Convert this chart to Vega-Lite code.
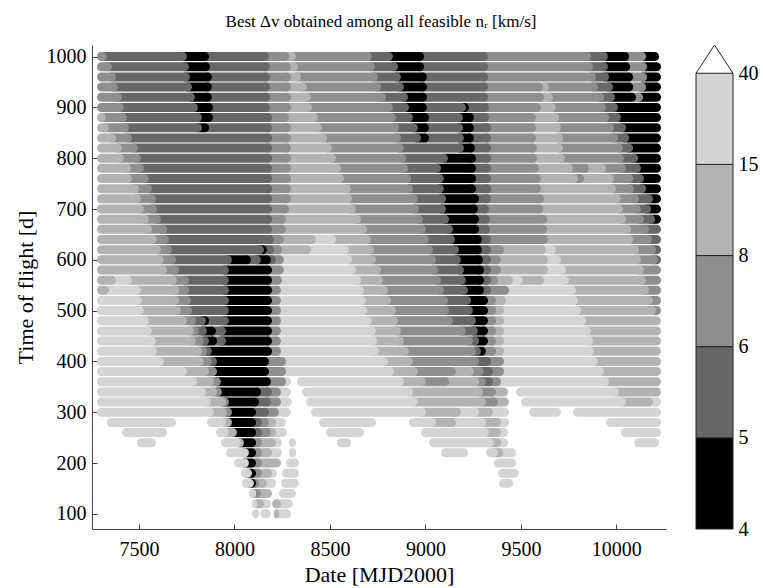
{
"$schema": "https://vega.github.io/schema/vega-lite/v6.json",
"background": "white",
"padding": {"left": 14, "top": 13, "right": 2, "bottom": 2},
"title": {"text": "Best Δv obtained among all feasible nᵣ [km/s]", "font": "Liberation Serif", "fontSize": 17, "fontWeight": "normal", "color": "black", "anchor": "middle", "offset": 12, "dx": -5},
"bounds": "flush",
"spacing": 30,
"resolve": {"scale": {"x": "independent", "y": "independent"}},
"hconcat": [
{
"width": 574, "height": 484,
"data": {"values": [
{"tof":1000,"d0":7280,"d1":7332,"c":2},{"tof":1000,"d0":7287,"d1":7751,"c":1},{"tof":1000,"d0":7706,"d1":7867,"c":0},{"tof":1000,"d0":7822,"d1":8181,"c":1},{"tof":1000,"d0":8136,"d1":8286,"c":2},{"tof":1000,"d0":8241,"d1":8322,"c":3},{"tof":1000,"d0":8277,"d1":8720,"c":2},{"tof":1000,"d0":8675,"d1":8830,"c":1},{"tof":1000,"d0":8785,"d1":8993,"c":0},{"tof":1000,"d0":8948,"d1":9328,"c":1},{"tof":1000,"d0":9283,"d1":9867,"c":2},{"tof":1000,"d0":9822,"d1":9956,"c":1},{"tof":1000,"d0":9911,"d1":10067,"c":0},{"tof":1000,"d0":10022,"d1":10156,"c":2},{"tof":1000,"d0":10111,"d1":10224,"c":0},
{"tof":980,"d0":7280,"d1":7359,"c":2},{"tof":980,"d0":7314,"d1":7762,"c":1},{"tof":980,"d0":7717,"d1":7872,"c":0},{"tof":980,"d0":7827,"d1":8186,"c":1},{"tof":980,"d0":8141,"d1":8296,"c":2},{"tof":980,"d0":8251,"d1":8333,"c":3},{"tof":980,"d0":8288,"d1":8736,"c":2},{"tof":980,"d0":8691,"d1":8857,"c":1},{"tof":980,"d0":8812,"d1":8993,"c":0},{"tof":980,"d0":8948,"d1":9328,"c":1},{"tof":980,"d0":9283,"d1":9878,"c":2},{"tof":980,"d0":9833,"d1":9956,"c":1},{"tof":980,"d0":9911,"d1":10072,"c":0},{"tof":980,"d0":10027,"d1":10161,"c":2},{"tof":980,"d0":10116,"d1":10234,"c":0},
{"tof":960,"d0":7280,"d1":7380,"c":2},{"tof":960,"d0":7335,"d1":7767,"c":1},{"tof":960,"d0":7722,"d1":7882,"c":0},{"tof":960,"d0":7837,"d1":8186,"c":1},{"tof":960,"d0":8141,"d1":8296,"c":2},{"tof":960,"d0":8251,"d1":8349,"c":3},{"tof":960,"d0":8304,"d1":8752,"c":2},{"tof":960,"d0":8707,"d1":8872,"c":1},{"tof":960,"d0":8827,"d1":9008,"c":0},{"tof":960,"d0":8963,"d1":9328,"c":1},{"tof":960,"d0":9283,"d1":9894,"c":2},{"tof":960,"d0":9849,"d1":9962,"c":1},{"tof":960,"d0":9917,"d1":10088,"c":0},{"tof":960,"d0":10043,"d1":10161,"c":2},{"tof":960,"d0":10116,"d1":10234,"c":0},
{"tof":940,"d0":7280,"d1":7390,"c":2},{"tof":940,"d0":7345,"d1":7778,"c":1},{"tof":940,"d0":7733,"d1":7882,"c":0},{"tof":940,"d0":7837,"d1":8186,"c":1},{"tof":940,"d0":8141,"d1":8296,"c":2},{"tof":940,"d0":8251,"d1":8380,"c":3},{"tof":940,"d0":8335,"d1":8768,"c":2},{"tof":940,"d0":8723,"d1":8888,"c":1},{"tof":940,"d0":8843,"d1":9008,"c":0},{"tof":940,"d0":8963,"d1":9328,"c":1},{"tof":940,"d0":9283,"d1":9616,"c":2},{"tof":940,"d0":9571,"d1":9647,"c":3},{"tof":940,"d0":9602,"d1":9904,"c":2},{"tof":940,"d0":9859,"d1":9983,"c":1},{"tof":940,"d0":9938,"d1":10088,"c":0},{"tof":940,"d0":10043,"d1":10156,"c":2},{"tof":940,"d0":10111,"d1":10234,"c":0},
{"tof":920,"d0":7280,"d1":7411,"c":2},{"tof":920,"d0":7366,"d1":7793,"c":1},{"tof":920,"d0":7748,"d1":7882,"c":0},{"tof":920,"d0":7837,"d1":8186,"c":1},{"tof":920,"d0":8141,"d1":8296,"c":2},{"tof":920,"d0":8251,"d1":8401,"c":3},{"tof":920,"d0":8356,"d1":8794,"c":2},{"tof":920,"d0":8749,"d1":8909,"c":1},{"tof":920,"d0":8864,"d1":9008,"c":0},{"tof":920,"d0":8963,"d1":9328,"c":1},{"tof":920,"d0":9283,"d1":9621,"c":2},{"tof":920,"d0":9576,"d1":9668,"c":3},{"tof":920,"d0":9623,"d1":9936,"c":2},{"tof":920,"d0":9891,"d1":9993,"c":1},{"tof":920,"d0":9948,"d1":10103,"c":0},{"tof":920,"d0":10058,"d1":10140,"c":2},{"tof":920,"d0":10095,"d1":10234,"c":0},
{"tof":900,"d0":7280,"d1":7421,"c":2},{"tof":900,"d0":7376,"d1":7809,"c":1},{"tof":900,"d0":7764,"d1":7888,"c":0},{"tof":900,"d0":7843,"d1":8186,"c":1},{"tof":900,"d0":8141,"d1":8296,"c":2},{"tof":900,"d0":8251,"d1":8406,"c":3},{"tof":900,"d0":8361,"d1":8830,"c":2},{"tof":900,"d0":8785,"d1":8914,"c":1},{"tof":900,"d0":8869,"d1":9008,"c":0},{"tof":900,"d0":8963,"d1":9212,"c":1},{"tof":900,"d0":9167,"d1":9228,"c":0},{"tof":900,"d0":9183,"d1":9333,"c":1},{"tof":900,"d0":9288,"d1":9605,"c":2},{"tof":900,"d0":9560,"d1":9684,"c":3},{"tof":900,"d0":9639,"d1":9946,"c":2},{"tof":900,"d0":9901,"d1":10009,"c":1},{"tof":900,"d0":9964,"d1":10234,"c":0},
{"tof":880,"d0":7280,"d1":7327,"c":3},{"tof":880,"d0":7282,"d1":7437,"c":2},{"tof":880,"d0":7392,"d1":7830,"c":1},{"tof":880,"d0":7785,"d1":7888,"c":0},{"tof":880,"d0":7843,"d1":8197,"c":1},{"tof":880,"d0":8152,"d1":8286,"c":2},{"tof":880,"d0":8241,"d1":8438,"c":3},{"tof":880,"d0":8393,"d1":8846,"c":2},{"tof":880,"d0":8801,"d1":8935,"c":1},{"tof":880,"d0":8890,"d1":9019,"c":0},{"tof":880,"d0":8974,"d1":9197,"c":1},{"tof":880,"d0":9152,"d1":9254,"c":0},{"tof":880,"d0":9209,"d1":9333,"c":1},{"tof":880,"d0":9288,"d1":9579,"c":2},{"tof":880,"d0":9534,"d1":9700,"c":3},{"tof":880,"d0":9655,"d1":9962,"c":2},{"tof":880,"d0":9917,"d1":10024,"c":1},{"tof":880,"d0":9979,"d1":10234,"c":0},
{"tof":860,"d0":7280,"d1":7343,"c":3},{"tof":860,"d0":7298,"d1":7448,"c":2},{"tof":860,"d0":7403,"d1":7830,"c":1},{"tof":860,"d0":7785,"d1":7867,"c":0},{"tof":860,"d0":7822,"d1":8197,"c":1},{"tof":860,"d0":8152,"d1":8296,"c":2},{"tof":860,"d0":8251,"d1":8458,"c":3},{"tof":860,"d0":8413,"d1":8862,"c":2},{"tof":860,"d0":8817,"d1":8961,"c":1},{"tof":860,"d0":8916,"d1":9019,"c":0},{"tof":860,"d0":8974,"d1":9197,"c":1},{"tof":860,"d0":9152,"d1":9254,"c":0},{"tof":860,"d0":9209,"d1":9344,"c":1},{"tof":860,"d0":9299,"d1":9579,"c":2},{"tof":860,"d0":9534,"d1":9710,"c":3},{"tof":860,"d0":9665,"d1":9988,"c":2},{"tof":860,"d0":9943,"d1":10051,"c":1},{"tof":860,"d0":10006,"d1":10234,"c":0},
{"tof":840,"d0":7280,"d1":7380,"c":3},{"tof":840,"d0":7335,"d1":7463,"c":2},{"tof":840,"d0":7418,"d1":8197,"c":1},{"tof":840,"d0":8152,"d1":8296,"c":2},{"tof":840,"d0":8251,"d1":8485,"c":3},{"tof":840,"d0":8440,"d1":8872,"c":2},{"tof":840,"d0":8827,"d1":8977,"c":1},{"tof":840,"d0":8932,"d1":9019,"c":0},{"tof":840,"d0":8974,"d1":9202,"c":1},{"tof":840,"d0":9157,"d1":9254,"c":0},{"tof":840,"d0":9209,"d1":9344,"c":1},{"tof":840,"d0":9299,"d1":9579,"c":2},{"tof":840,"d0":9534,"d1":9721,"c":3},{"tof":840,"d0":9676,"d1":10009,"c":2},{"tof":840,"d0":9964,"d1":10067,"c":1},{"tof":840,"d0":10022,"d1":10234,"c":0},
{"tof":820,"d0":7280,"d1":7411,"c":3},{"tof":820,"d0":7366,"d1":7495,"c":2},{"tof":820,"d0":7450,"d1":8197,"c":1},{"tof":820,"d0":8152,"d1":8296,"c":2},{"tof":820,"d0":8251,"d1":8511,"c":3},{"tof":820,"d0":8466,"d1":8888,"c":2},{"tof":820,"d0":8843,"d1":9202,"c":1},{"tof":820,"d0":9157,"d1":9260,"c":0},{"tof":820,"d0":9215,"d1":9344,"c":1},{"tof":820,"d0":9299,"d1":9584,"c":2},{"tof":820,"d0":9539,"d1":9721,"c":3},{"tof":820,"d0":9676,"d1":10035,"c":2},{"tof":820,"d0":9990,"d1":10088,"c":1},{"tof":820,"d0":10043,"d1":10234,"c":0},
{"tof":800,"d0":7280,"d1":7421,"c":3},{"tof":800,"d0":7376,"d1":7510,"c":2},{"tof":800,"d0":7465,"d1":8197,"c":1},{"tof":800,"d0":8152,"d1":8296,"c":2},{"tof":800,"d0":8251,"d1":8532,"c":3},{"tof":800,"d0":8487,"d1":8899,"c":2},{"tof":800,"d0":8854,"d1":9118,"c":1},{"tof":800,"d0":9073,"d1":9265,"c":0},{"tof":800,"d0":9220,"d1":9344,"c":1},{"tof":800,"d0":9299,"d1":9584,"c":2},{"tof":800,"d0":9539,"d1":9731,"c":3},{"tof":800,"d0":9686,"d1":10040,"c":2},{"tof":800,"d0":9995,"d1":10114,"c":1},{"tof":800,"d0":10069,"d1":10234,"c":0},
{"tof":780,"d0":7280,"d1":7458,"c":3},{"tof":780,"d0":7413,"d1":7526,"c":2},{"tof":780,"d0":7481,"d1":8197,"c":1},{"tof":780,"d0":8152,"d1":8296,"c":2},{"tof":780,"d0":8251,"d1":8558,"c":3},{"tof":780,"d0":8513,"d1":8909,"c":2},{"tof":780,"d0":8864,"d1":9082,"c":1},{"tof":780,"d0":9037,"d1":9265,"c":0},{"tof":780,"d0":9220,"d1":9344,"c":1},{"tof":780,"d0":9299,"d1":9595,"c":2},{"tof":780,"d0":9550,"d1":9773,"c":3},{"tof":780,"d0":9728,"d1":9857,"c":2},{"tof":780,"d0":9812,"d1":9946,"c":3},{"tof":780,"d0":9901,"d1":10051,"c":2},{"tof":780,"d0":10006,"d1":10129,"c":1},{"tof":780,"d0":10084,"d1":10234,"c":0},
{"tof":760,"d0":7280,"d1":7463,"c":3},{"tof":760,"d0":7418,"d1":7552,"c":2},{"tof":760,"d0":7507,"d1":8197,"c":1},{"tof":760,"d0":8152,"d1":8296,"c":2},{"tof":760,"d0":8251,"d1":8574,"c":3},{"tof":760,"d0":8529,"d1":8925,"c":2},{"tof":760,"d0":8880,"d1":9097,"c":1},{"tof":760,"d0":9052,"d1":9265,"c":0},{"tof":760,"d0":9220,"d1":9344,"c":1},{"tof":760,"d0":9299,"d1":9605,"c":2},{"tof":760,"d0":9560,"d1":9799,"c":3},{"tof":760,"d0":9754,"d1":9831,"c":2},{"tof":760,"d0":9786,"d1":9988,"c":3},{"tof":760,"d0":9943,"d1":10088,"c":2},{"tof":760,"d0":10043,"d1":10145,"c":1},{"tof":760,"d0":10100,"d1":10234,"c":0},
{"tof":740,"d0":7280,"d1":7500,"c":3},{"tof":740,"d0":7455,"d1":7568,"c":2},{"tof":740,"d0":7523,"d1":8197,"c":1},{"tof":740,"d0":8152,"d1":8296,"c":2},{"tof":740,"d0":8251,"d1":8610,"c":3},{"tof":740,"d0":8565,"d1":8935,"c":2},{"tof":740,"d0":8890,"d1":9097,"c":1},{"tof":740,"d0":9052,"d1":9265,"c":0},{"tof":740,"d0":9220,"d1":9344,"c":1},{"tof":740,"d0":9299,"d1":9605,"c":2},{"tof":740,"d0":9560,"d1":9998,"c":3},{"tof":740,"d0":9953,"d1":10093,"c":2},{"tof":740,"d0":10048,"d1":10156,"c":1},{"tof":740,"d0":10111,"d1":10234,"c":0},
{"tof":720,"d0":7280,"d1":7510,"c":3},{"tof":720,"d0":7465,"d1":7589,"c":2},{"tof":720,"d0":7544,"d1":8197,"c":1},{"tof":720,"d0":8152,"d1":8296,"c":2},{"tof":720,"d0":8251,"d1":8616,"c":3},{"tof":720,"d0":8571,"d1":8961,"c":2},{"tof":720,"d0":8916,"d1":9108,"c":1},{"tof":720,"d0":9063,"d1":9281,"c":0},{"tof":720,"d0":9236,"d1":9344,"c":1},{"tof":720,"d0":9299,"d1":9621,"c":2},{"tof":720,"d0":9576,"d1":10024,"c":3},{"tof":720,"d0":9979,"d1":10119,"c":2},{"tof":720,"d0":10074,"d1":10192,"c":1},{"tof":720,"d0":10147,"d1":10234,"c":0},
{"tof":700,"d0":7280,"d1":7526,"c":3},{"tof":700,"d0":7481,"d1":7594,"c":2},{"tof":700,"d0":7549,"d1":8197,"c":1},{"tof":700,"d0":8152,"d1":8286,"c":2},{"tof":700,"d0":8241,"d1":8637,"c":3},{"tof":700,"d0":8592,"d1":8967,"c":2},{"tof":700,"d0":8922,"d1":9108,"c":1},{"tof":700,"d0":9063,"d1":9275,"c":0},{"tof":700,"d0":9230,"d1":9333,"c":1},{"tof":700,"d0":9288,"d1":9616,"c":2},{"tof":700,"d0":9571,"d1":10035,"c":3},{"tof":700,"d0":9990,"d1":10129,"c":2},{"tof":700,"d0":10084,"d1":10182,"c":1},{"tof":700,"d0":10137,"d1":10234,"c":0},
{"tof":680,"d0":7280,"d1":7552,"c":3},{"tof":680,"d0":7507,"d1":7615,"c":2},{"tof":680,"d0":7570,"d1":8197,"c":1},{"tof":680,"d0":8152,"d1":8270,"c":2},{"tof":680,"d0":8225,"d1":8663,"c":3},{"tof":680,"d0":8618,"d1":8988,"c":2},{"tof":680,"d0":8943,"d1":9124,"c":1},{"tof":680,"d0":9079,"d1":9281,"c":0},{"tof":680,"d0":9236,"d1":9338,"c":1},{"tof":680,"d0":9293,"d1":9637,"c":2},{"tof":680,"d0":9592,"d1":10051,"c":3},{"tof":680,"d0":10006,"d1":10145,"c":2},{"tof":680,"d0":10100,"d1":10203,"c":1},{"tof":680,"d0":10158,"d1":10234,"c":0},
{"tof":660,"d0":7280,"d1":7568,"c":3},{"tof":660,"d0":7523,"d1":7647,"c":2},{"tof":660,"d0":7602,"d1":8197,"c":1},{"tof":660,"d0":8152,"d1":8270,"c":2},{"tof":660,"d0":8225,"d1":8694,"c":3},{"tof":660,"d0":8649,"d1":9003,"c":2},{"tof":660,"d0":8958,"d1":9145,"c":1},{"tof":660,"d0":9100,"d1":9281,"c":0},{"tof":660,"d0":9236,"d1":9338,"c":1},{"tof":660,"d0":9293,"d1":9637,"c":2},{"tof":660,"d0":9592,"d1":10077,"c":3},{"tof":660,"d0":10032,"d1":10171,"c":2},{"tof":660,"d0":10126,"d1":10234,"c":1},
{"tof":640,"d0":7280,"d1":7594,"c":3},{"tof":640,"d0":7549,"d1":7657,"c":2},{"tof":640,"d0":7612,"d1":8207,"c":1},{"tof":640,"d0":8162,"d1":8259,"c":2},{"tof":640,"d0":8214,"d1":8427,"c":3},{"tof":640,"d0":8382,"d1":8532,"c":4},{"tof":640,"d0":8487,"d1":8715,"c":3},{"tof":640,"d0":8670,"d1":9019,"c":2},{"tof":640,"d0":8974,"d1":9155,"c":1},{"tof":640,"d0":9110,"d1":9296,"c":0},{"tof":640,"d0":9251,"d1":9344,"c":1},{"tof":640,"d0":9299,"d1":9642,"c":2},{"tof":640,"d0":9597,"d1":10088,"c":3},{"tof":640,"d0":10043,"d1":10187,"c":2},{"tof":640,"d0":10142,"d1":10234,"c":1},
{"tof":620,"d0":7280,"d1":7615,"c":3},{"tof":620,"d0":7570,"d1":7673,"c":2},{"tof":620,"d0":7628,"d1":8155,"c":1},{"tof":620,"d0":8110,"d1":8170,"c":0},{"tof":620,"d0":8125,"d1":8207,"c":1},{"tof":620,"d0":8162,"d1":8249,"c":2},{"tof":620,"d0":8204,"d1":8401,"c":3},{"tof":620,"d0":8356,"d1":8600,"c":4},{"tof":620,"d0":8555,"d1":8731,"c":3},{"tof":620,"d0":8686,"d1":9040,"c":2},{"tof":620,"d0":8995,"d1":9176,"c":1},{"tof":620,"d0":9131,"d1":9296,"c":0},{"tof":620,"d0":9251,"d1":9344,"c":1},{"tof":620,"d0":9299,"d1":9412,"c":2},{"tof":620,"d0":9367,"d1":9631,"c":3},{"tof":620,"d0":9586,"d1":9684,"c":4},{"tof":620,"d0":9639,"d1":10119,"c":3},{"tof":620,"d0":10074,"d1":10208,"c":2},{"tof":620,"d0":10163,"d1":10234,"c":1},
{"tof":600,"d0":7280,"d1":7631,"c":3},{"tof":600,"d0":7586,"d1":7694,"c":2},{"tof":600,"d0":7649,"d1":7987,"c":1},{"tof":600,"d0":7942,"d1":8087,"c":0},{"tof":600,"d0":8042,"d1":8139,"c":1},{"tof":600,"d0":8094,"d1":8191,"c":0},{"tof":600,"d0":8146,"d1":8218,"c":1},{"tof":600,"d0":8173,"d1":8259,"c":2},{"tof":600,"d0":8214,"d1":8616,"c":4},{"tof":600,"d0":8571,"d1":8741,"c":3},{"tof":600,"d0":8696,"d1":9056,"c":2},{"tof":600,"d0":9011,"d1":9186,"c":1},{"tof":600,"d0":9141,"d1":9302,"c":0},{"tof":600,"d0":9257,"d1":9344,"c":1},{"tof":600,"d0":9299,"d1":9396,"c":2},{"tof":600,"d0":9351,"d1":9642,"c":3},{"tof":600,"d0":9597,"d1":9710,"c":4},{"tof":600,"d0":9665,"d1":10129,"c":3},{"tof":600,"d0":10084,"d1":10218,"c":2},{"tof":600,"d0":10173,"d1":10234,"c":1},
{"tof":580,"d0":7280,"d1":7647,"c":3},{"tof":580,"d0":7602,"d1":7710,"c":2},{"tof":580,"d0":7665,"d1":7971,"c":1},{"tof":580,"d0":7926,"d1":8197,"c":0},{"tof":580,"d0":8152,"d1":8259,"c":2},{"tof":580,"d0":8214,"d1":8637,"c":4},{"tof":580,"d0":8592,"d1":8768,"c":3},{"tof":580,"d0":8723,"d1":9066,"c":2},{"tof":580,"d0":9021,"d1":9202,"c":1},{"tof":580,"d0":9157,"d1":9307,"c":0},{"tof":580,"d0":9262,"d1":9344,"c":1},{"tof":580,"d0":9299,"d1":9396,"c":2},{"tof":580,"d0":9351,"d1":9642,"c":3},{"tof":580,"d0":9597,"d1":9736,"c":4},{"tof":580,"d0":9691,"d1":10145,"c":3},{"tof":580,"d0":10100,"d1":10234,"c":2},
{"tof":560,"d0":7280,"d1":7380,"c":3},{"tof":560,"d0":7335,"d1":7463,"c":4},{"tof":560,"d0":7418,"d1":7699,"c":3},{"tof":560,"d0":7654,"d1":7762,"c":2},{"tof":560,"d0":7717,"d1":7971,"c":1},{"tof":560,"d0":7926,"d1":8197,"c":0},{"tof":560,"d0":8152,"d1":8249,"c":2},{"tof":560,"d0":8204,"d1":8663,"c":4},{"tof":560,"d0":8618,"d1":8778,"c":3},{"tof":560,"d0":8733,"d1":9082,"c":2},{"tof":560,"d0":9037,"d1":9212,"c":1},{"tof":560,"d0":9167,"d1":9307,"c":0},{"tof":560,"d0":9262,"d1":9344,"c":1},{"tof":560,"d0":9299,"d1":9380,"c":2},{"tof":560,"d0":9335,"d1":9459,"c":3},{"tof":560,"d0":9414,"d1":9511,"c":4},{"tof":560,"d0":9466,"d1":9621,"c":3},{"tof":560,"d0":9576,"d1":9752,"c":4},{"tof":560,"d0":9707,"d1":10156,"c":3},{"tof":560,"d0":10111,"d1":10234,"c":2},
{"tof":540,"d0":7280,"d1":7343,"c":3},{"tof":540,"d0":7298,"d1":7510,"c":4},{"tof":540,"d0":7465,"d1":7710,"c":3},{"tof":540,"d0":7665,"d1":7762,"c":2},{"tof":540,"d0":7717,"d1":7971,"c":1},{"tof":540,"d0":7926,"d1":8197,"c":0},{"tof":540,"d0":8152,"d1":8244,"c":2},{"tof":540,"d0":8199,"d1":8678,"c":4},{"tof":540,"d0":8633,"d1":8804,"c":3},{"tof":540,"d0":8759,"d1":9097,"c":2},{"tof":540,"d0":9052,"d1":9223,"c":1},{"tof":540,"d0":9178,"d1":9307,"c":0},{"tof":540,"d0":9262,"d1":9344,"c":1},{"tof":540,"d0":9299,"d1":9438,"c":2},{"tof":540,"d0":9393,"d1":9789,"c":4},{"tof":540,"d0":9744,"d1":10171,"c":3},{"tof":540,"d0":10126,"d1":10234,"c":2},
{"tof":520,"d0":7280,"d1":7516,"c":4},{"tof":520,"d0":7471,"d1":7710,"c":3},{"tof":520,"d0":7665,"d1":7772,"c":2},{"tof":520,"d0":7727,"d1":7971,"c":1},{"tof":520,"d0":7926,"d1":8197,"c":0},{"tof":520,"d0":8152,"d1":8244,"c":2},{"tof":520,"d0":8199,"d1":8689,"c":4},{"tof":520,"d0":8644,"d1":8820,"c":3},{"tof":520,"d0":8775,"d1":9118,"c":2},{"tof":520,"d0":9073,"d1":9239,"c":1},{"tof":520,"d0":9194,"d1":9328,"c":0},{"tof":520,"d0":9283,"d1":9370,"c":2},{"tof":520,"d0":9325,"d1":9422,"c":3},{"tof":520,"d0":9377,"d1":9799,"c":4},{"tof":520,"d0":9754,"d1":10192,"c":3},{"tof":520,"d0":10147,"d1":10234,"c":2},
{"tof":500,"d0":7280,"d1":7526,"c":4},{"tof":500,"d0":7481,"d1":7720,"c":3},{"tof":500,"d0":7675,"d1":7778,"c":2},{"tof":500,"d0":7733,"d1":7971,"c":1},{"tof":500,"d0":7926,"d1":8197,"c":0},{"tof":500,"d0":8152,"d1":8244,"c":2},{"tof":500,"d0":8199,"d1":8694,"c":4},{"tof":500,"d0":8649,"d1":8846,"c":3},{"tof":500,"d0":8801,"d1":9124,"c":2},{"tof":500,"d0":9079,"d1":9249,"c":1},{"tof":500,"d0":9204,"d1":9328,"c":0},{"tof":500,"d0":9283,"d1":9370,"c":2},{"tof":500,"d0":9325,"d1":9412,"c":3},{"tof":500,"d0":9367,"d1":9815,"c":4},{"tof":500,"d0":9770,"d1":10208,"c":3},{"tof":500,"d0":10163,"d1":10234,"c":2},
{"tof":480,"d0":7280,"d1":7552,"c":4},{"tof":480,"d0":7507,"d1":7751,"c":3},{"tof":480,"d0":7706,"d1":7799,"c":2},{"tof":480,"d0":7754,"d1":7851,"c":1},{"tof":480,"d0":7806,"d1":7867,"c":0},{"tof":480,"d0":7822,"d1":7971,"c":1},{"tof":480,"d0":7926,"d1":8197,"c":0},{"tof":480,"d0":8152,"d1":8244,"c":2},{"tof":480,"d0":8199,"d1":8720,"c":4},{"tof":480,"d0":8675,"d1":8857,"c":3},{"tof":480,"d0":8812,"d1":9145,"c":2},{"tof":480,"d0":9100,"d1":9265,"c":1},{"tof":480,"d0":9220,"d1":9328,"c":0},{"tof":480,"d0":9283,"d1":9370,"c":2},{"tof":480,"d0":9325,"d1":9412,"c":3},{"tof":480,"d0":9367,"d1":9841,"c":4},{"tof":480,"d0":9796,"d1":10234,"c":3},
{"tof":460,"d0":7280,"d1":7568,"c":4},{"tof":460,"d0":7523,"d1":7788,"c":3},{"tof":460,"d0":7743,"d1":7814,"c":2},{"tof":460,"d0":7769,"d1":7856,"c":1},{"tof":460,"d0":7811,"d1":7903,"c":0},{"tof":460,"d0":7858,"d1":7956,"c":1},{"tof":460,"d0":7911,"d1":8197,"c":0},{"tof":460,"d0":8152,"d1":8244,"c":2},{"tof":460,"d0":8199,"d1":8741,"c":4},{"tof":460,"d0":8696,"d1":8872,"c":3},{"tof":460,"d0":8827,"d1":9212,"c":2},{"tof":460,"d0":9167,"d1":9275,"c":1},{"tof":460,"d0":9230,"d1":9328,"c":0},{"tof":460,"d0":9283,"d1":9370,"c":2},{"tof":460,"d0":9325,"d1":9412,"c":3},{"tof":460,"d0":9367,"d1":9867,"c":4},{"tof":460,"d0":9822,"d1":10234,"c":3},
{"tof":440,"d0":7280,"d1":7589,"c":4},{"tof":440,"d0":7544,"d1":7799,"c":3},{"tof":440,"d0":7754,"d1":7840,"c":2},{"tof":440,"d0":7795,"d1":7867,"c":1},{"tof":440,"d0":7822,"d1":7909,"c":0},{"tof":440,"d0":7864,"d1":7956,"c":1},{"tof":440,"d0":7911,"d1":8197,"c":0},{"tof":440,"d0":8152,"d1":8244,"c":2},{"tof":440,"d0":8199,"d1":8747,"c":4},{"tof":440,"d0":8702,"d1":8888,"c":3},{"tof":440,"d0":8843,"d1":9249,"c":2},{"tof":440,"d0":9204,"d1":9281,"c":1},{"tof":440,"d0":9236,"d1":9328,"c":0},{"tof":440,"d0":9283,"d1":9370,"c":2},{"tof":440,"d0":9325,"d1":9412,"c":3},{"tof":440,"d0":9367,"d1":9878,"c":4},{"tof":440,"d0":9833,"d1":10234,"c":3},
{"tof":420,"d0":7280,"d1":7594,"c":4},{"tof":420,"d0":7549,"d1":7830,"c":3},{"tof":420,"d0":7785,"d1":7856,"c":2},{"tof":420,"d0":7811,"d1":7882,"c":1},{"tof":420,"d0":7837,"d1":8197,"c":0},{"tof":420,"d0":8152,"d1":8244,"c":2},{"tof":420,"d0":8199,"d1":8757,"c":4},{"tof":420,"d0":8712,"d1":8914,"c":3},{"tof":420,"d0":8869,"d1":9265,"c":2},{"tof":420,"d0":9220,"d1":9291,"c":1},{"tof":420,"d0":9246,"d1":9317,"c":0},{"tof":420,"d0":9272,"d1":9370,"c":2},{"tof":420,"d0":9325,"d1":9412,"c":3},{"tof":420,"d0":9367,"d1":9883,"c":4},{"tof":420,"d0":9838,"d1":10234,"c":3},
{"tof":400,"d0":7280,"d1":7631,"c":4},{"tof":400,"d0":7586,"d1":7840,"c":3},{"tof":400,"d0":7795,"d1":7882,"c":2},{"tof":400,"d0":7837,"d1":7909,"c":1},{"tof":400,"d0":7864,"d1":8181,"c":0},{"tof":400,"d0":8136,"d1":8270,"c":2},{"tof":400,"d0":8225,"d1":8804,"c":4},{"tof":400,"d0":8759,"d1":8935,"c":3},{"tof":400,"d0":8890,"d1":9281,"c":2},{"tof":400,"d0":9236,"d1":9344,"c":1},{"tof":400,"d0":9299,"d1":9412,"c":2},{"tof":400,"d0":9367,"d1":9904,"c":4},{"tof":400,"d0":9859,"d1":10234,"c":3},
{"tof":380,"d0":7280,"d1":7751,"c":4},{"tof":380,"d0":7706,"d1":7867,"c":3},{"tof":380,"d0":7822,"d1":7909,"c":2},{"tof":380,"d0":7864,"d1":8181,"c":0},{"tof":380,"d0":8136,"d1":8270,"c":2},{"tof":380,"d0":8225,"d1":8836,"c":4},{"tof":380,"d0":8791,"d1":8961,"c":3},{"tof":380,"d0":8916,"d1":9160,"c":2},{"tof":380,"d0":9115,"d1":9254,"c":3},{"tof":380,"d0":9209,"d1":9307,"c":2},{"tof":380,"d0":9262,"d1":9354,"c":1},{"tof":380,"d0":9309,"d1":9412,"c":2},{"tof":380,"d0":9367,"d1":9936,"c":4},{"tof":380,"d0":9891,"d1":10234,"c":3},
{"tof":360,"d0":7280,"d1":7804,"c":4},{"tof":360,"d0":7759,"d1":7893,"c":3},{"tof":360,"d0":7848,"d1":7929,"c":2},{"tof":360,"d0":7884,"d1":8191,"c":0},{"tof":360,"d0":8146,"d1":8270,"c":2},{"tof":360,"d0":8225,"d1":8296,"c":4},{"tof":360,"d0":8328,"d1":8888,"c":4},{"tof":360,"d0":8843,"d1":9003,"c":3},{"tof":360,"d0":8958,"d1":9124,"c":2},{"tof":360,"d0":9079,"d1":9281,"c":3},{"tof":360,"d0":9236,"d1":9317,"c":2},{"tof":360,"d0":9272,"d1":9354,"c":1},{"tof":360,"d0":9309,"d1":9396,"c":2},{"tof":360,"d0":9351,"d1":9962,"c":4},{"tof":360,"d0":9917,"d1":10234,"c":3},
{"tof":340,"d0":7280,"d1":7851,"c":4},{"tof":340,"d0":7806,"d1":7909,"c":3},{"tof":340,"d0":7864,"d1":7935,"c":2},{"tof":340,"d0":7890,"d1":8139,"c":0},{"tof":340,"d0":8094,"d1":8197,"c":1},{"tof":340,"d0":8152,"d1":8244,"c":2},{"tof":340,"d0":8199,"d1":8296,"c":4},{"tof":340,"d0":8354,"d1":8935,"c":4},{"tof":340,"d0":8890,"d1":9302,"c":3},{"tof":340,"d0":9257,"d1":9370,"c":2},{"tof":340,"d0":9325,"d1":9433,"c":3},{"tof":340,"d0":9475,"d1":10014,"c":4},{"tof":340,"d0":9969,"d1":10234,"c":3},
{"tof":320,"d0":7280,"d1":7877,"c":4},{"tof":320,"d0":7832,"d1":7956,"c":3},{"tof":320,"d0":7911,"d1":7971,"c":2},{"tof":320,"d0":7926,"d1":8129,"c":0},{"tof":320,"d0":8084,"d1":8191,"c":1},{"tof":320,"d0":8146,"d1":8244,"c":2},{"tof":320,"d0":8199,"d1":8301,"c":4},{"tof":320,"d0":8375,"d1":8961,"c":4},{"tof":320,"d0":8916,"d1":9317,"c":3},{"tof":320,"d0":9272,"d1":9380,"c":2},{"tof":320,"d0":9335,"d1":9438,"c":3},{"tof":320,"d0":9501,"d1":10051,"c":4},{"tof":320,"d0":10006,"d1":10192,"c":3},{"tof":320,"d0":10147,"d1":10234,"c":4},
{"tof":300,"d0":7280,"d1":7893,"c":4},{"tof":300,"d0":7848,"d1":7961,"c":3},{"tof":300,"d0":7916,"d1":7987,"c":2},{"tof":300,"d0":7942,"d1":8113,"c":0},{"tof":300,"d0":8068,"d1":8181,"c":1},{"tof":300,"d0":8136,"d1":8233,"c":2},{"tof":300,"d0":8188,"d1":8296,"c":4},{"tof":300,"d0":8401,"d1":9003,"c":4},{"tof":300,"d0":8958,"d1":9186,"c":3},{"tof":300,"d0":9141,"d1":9281,"c":4},{"tof":300,"d0":9236,"d1":9354,"c":3},{"tof":300,"d0":9309,"d1":9438,"c":4},{"tof":300,"d0":9543,"d1":9710,"c":4},{"tof":300,"d0":9773,"d1":10234,"c":4},
{"tof":280,"d0":7332,"d1":7694,"c":4},{"tof":280,"d0":7856,"d1":7956,"c":4},{"tof":280,"d0":7911,"d1":7987,"c":3},{"tof":280,"d0":7942,"d1":8113,"c":0},{"tof":280,"d0":8068,"d1":8144,"c":1},{"tof":280,"d0":8099,"d1":8181,"c":2},{"tof":280,"d0":8136,"d1":8218,"c":3},{"tof":280,"d0":8173,"d1":8270,"c":4},{"tof":280,"d0":8443,"d1":8741,"c":4},{"tof":280,"d0":8914,"d1":9056,"c":4},{"tof":280,"d0":9011,"d1":9160,"c":3},{"tof":280,"d0":9115,"d1":9317,"c":4},{"tof":280,"d0":9272,"d1":9396,"c":3},{"tof":280,"d0":9351,"d1":9438,"c":4},{"tof":280,"d0":9946,"d1":10234,"c":4},
{"tof":260,"d0":7411,"d1":7647,"c":4},{"tof":260,"d0":7903,"d1":7971,"c":4},{"tof":260,"d0":7926,"d1":8013,"c":3},{"tof":260,"d0":7968,"d1":8113,"c":0},{"tof":260,"d0":8068,"d1":8144,"c":1},{"tof":260,"d0":8099,"d1":8191,"c":2},{"tof":260,"d0":8146,"d1":8218,"c":3},{"tof":260,"d0":8173,"d1":8275,"c":4},{"tof":260,"d0":8479,"d1":8678,"c":4},{"tof":260,"d0":8977,"d1":9333,"c":4},{"tof":260,"d0":9288,"d1":9396,"c":3},{"tof":260,"d0":9351,"d1":9433,"c":4},{"tof":260,"d0":10024,"d1":10234,"c":4},
{"tof":240,"d0":7490,"d1":7589,"c":4},{"tof":240,"d0":7929,"d1":8034,"c":4},{"tof":240,"d0":7989,"d1":8050,"c":3},{"tof":240,"d0":8005,"d1":8113,"c":0},{"tof":240,"d0":8068,"d1":8144,"c":2},{"tof":240,"d0":8099,"d1":8218,"c":3},{"tof":240,"d0":8173,"d1":8249,"c":4},{"tof":240,"d0":8286,"d1":8322,"c":4},{"tof":240,"d0":8537,"d1":8610,"c":4},{"tof":240,"d0":9019,"d1":9359,"c":4},{"tof":240,"d0":9314,"d1":9396,"c":3},{"tof":240,"d0":9351,"d1":9433,"c":4},{"tof":240,"d0":10093,"d1":10224,"c":4},
{"tof":220,"d0":7956,"d1":8076,"c":4},{"tof":220,"d0":8031,"d1":8113,"c":0},{"tof":220,"d0":8068,"d1":8144,"c":2},{"tof":220,"d0":8099,"d1":8197,"c":3},{"tof":220,"d0":8152,"d1":8249,"c":4},{"tof":220,"d0":8286,"d1":8322,"c":4},{"tof":220,"d0":9082,"d1":9223,"c":4},{"tof":220,"d0":9317,"d1":9380,"c":4},{"tof":220,"d0":9335,"d1":9407,"c":3},{"tof":220,"d0":9362,"d1":9475,"c":4},
{"tof":200,"d0":7998,"d1":8076,"c":4},{"tof":200,"d0":8031,"d1":8113,"c":0},{"tof":200,"d0":8068,"d1":8144,"c":2},{"tof":200,"d0":8099,"d1":8244,"c":3},{"tof":200,"d0":8270,"d1":8338,"c":4},{"tof":200,"d0":9359,"d1":9475,"c":4},
{"tof":180,"d0":8034,"d1":8092,"c":4},{"tof":180,"d0":8047,"d1":8113,"c":0},{"tof":180,"d0":8068,"d1":8144,"c":2},{"tof":180,"d0":8099,"d1":8197,"c":3},{"tof":180,"d0":8152,"d1":8223,"c":4},{"tof":180,"d0":8249,"d1":8338,"c":4},{"tof":180,"d0":9380,"d1":9490,"c":4},
{"tof":160,"d0":8039,"d1":8102,"c":4},{"tof":160,"d0":8057,"d1":8113,"c":0},{"tof":160,"d0":8068,"d1":8129,"c":2},{"tof":160,"d0":8084,"d1":8170,"c":3},{"tof":160,"d0":8125,"d1":8218,"c":4},{"tof":160,"d0":8244,"d1":8338,"c":4},{"tof":160,"d0":9386,"d1":9459,"c":4},
{"tof":140,"d0":8076,"d1":8113,"c":4},{"tof":140,"d0":8080,"d1":8139,"c":2},{"tof":140,"d0":8094,"d1":8197,"c":3},{"tof":140,"d0":8233,"d1":8322,"c":4},
{"tof":120,"d0":8092,"d1":8118,"c":4},{"tof":120,"d0":8096,"d1":8155,"c":3},{"tof":120,"d0":8110,"d1":8191,"c":4},{"tof":120,"d0":8197,"d1":8244,"c":3},{"tof":120,"d0":8199,"d1":8307,"c":4},
{"tof":100,"d0":8092,"d1":8129,"c":4},{"tof":100,"d0":8135,"d1":8191,"c":4},{"tof":100,"d0":8207,"d1":8233,"c":3},{"tof":100,"d0":8211,"d1":8296,"c":4}
]},
"mark": {"type": "bar", "orient": "horizontal", "size": 9, "cornerRadius": 4.5, "clip": true},
"encoding": {
"x": {"field": "d0", "type": "quantitative", "title": "Date [MJD2000]",
"scale": {"domain": [7254, 10260], "nice": false, "zero": false},
"axis": {"values": [7500, 8000, 8500, 9000, 9500, 10000], "format": "d", "tickSize": -5, "labelPadding": 15, "labelFontSize": 20, "titleFontSize": 22, "titlePadding": 5, "labelOverlap": false, "labelFlush": false}},
"x2": {"field": "d1"},
"y": {"field": "tof", "type": "quantitative", "title": "Time of flight [d]",
"scale": {"domain": [80, 1013], "nice": false, "zero": false},
"axis": {"values": [100, 200, 300, 400, 500, 600, 700, 800, 900, 1000], "format": "d", "tickSize": -5, "labelPadding": 11, "labelFontSize": 20, "titleFontSize": 22, "titlePadding": 9, "labelOverlap": false, "labelFlush": false}},
"color": {"field": "c", "type": "ordinal", "scale": {"domain": [0, 1, 2, 3, 4], "range": ["#000000", "#676767", "#8e8e8e", "#b3b3b3", "#d4d4d4"]}, "legend": null},
"order": {"field": "d0", "type": "quantitative", "sort": "descending"}
}
},
{
"width": 37, "height": 484,
"layer": [
{
"data": {"values": [
{"c": 0, "lo": 0, "hi": 1, "l": 0, "r": 1},
{"c": 1, "lo": 1, "hi": 2, "l": 0, "r": 1},
{"c": 2, "lo": 2, "hi": 3, "l": 0, "r": 1},
{"c": 3, "lo": 3, "hi": 4, "l": 0, "r": 1},
{"c": 4, "lo": 4, "hi": 5, "l": 0, "r": 1}
]},
"mark": {"type": "rect", "stroke": "#222222", "strokeWidth": 1},
"encoding": {
"x": {"field": "l", "type": "quantitative", "scale": {"domain": [0, 1], "nice": false, "zero": false}, "axis": null},
"x2": {"field": "r"},
"y": {"field": "lo", "type": "quantitative", "scale": {"domain": [0, 5.31], "nice": false, "zero": false},
"axis": {"orient": "right", "values": [0, 1, 2, 3, 4, 5], "labelExpr": "['4','5','6','8','15','40'][datum.value]", "ticks": false, "domain": false, "grid": false, "labelPadding": 5, "labelFontSize": 20, "title": null}},
"y2": {"field": "hi"},
"color": {"field": "c", "type": "ordinal", "scale": {"domain": [0, 1, 2, 3, 4], "range": ["#000000", "#676767", "#8e8e8e", "#b3b3b3", "#d4d4d4"]}, "legend": null}
}
},
{
"data": {"values": [{"u": 0, "v": 5}, {"u": 0.5, "v": 5.31}, {"u": 1, "v": 5}]},
"mark": {"type": "line", "color": "#222222", "strokeWidth": 1},
"encoding": {
"x": {"field": "u", "type": "quantitative"},
"y": {"field": "v", "type": "quantitative"},
"order": {"field": "u", "type": "quantitative"}
}
}
]
}
],
"config": {
"view": {"stroke": null},
"axis": {"labelFont": "Liberation Serif", "titleFont": "Liberation Serif", "labelColor": "black", "titleColor": "black", "titleFontWeight": "normal", "grid": false, "domainColor": "#444444", "tickColor": "#444444"}
}
}
